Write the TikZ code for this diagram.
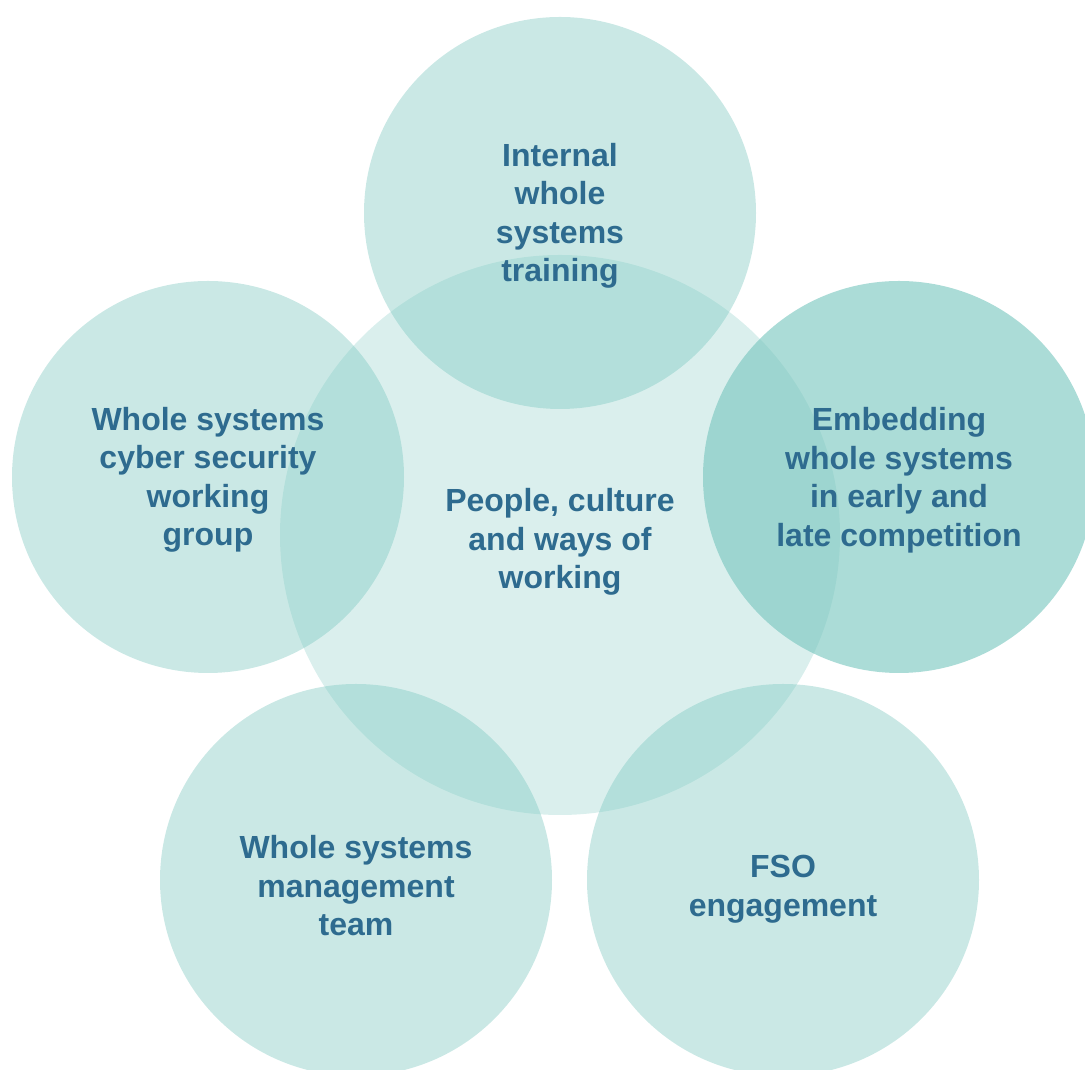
\documentclass[tikz,border=0pt]{standalone}
\usepackage{fontspec}
\setmainfont{Liberation Sans}
\definecolor{tealbase}{RGB}{118,197,189}
\definecolor{labelblue}{RGB}{46,107,143}
\tikzset{
  x=1pt,y=1pt,
  bubble/.style={circle, fill=tealbase, fill opacity=0.39, draw=none, minimum size=392pt, inner sep=0pt},
  hub/.style={circle, fill=tealbase, fill opacity=0.27, draw=none, minimum size=560pt, inner sep=0pt},
  label/.style={align=center, text=labelblue, font=\fontsize{32}{38.5}\selectfont\bfseries, inner sep=0pt}
}
\begin{document}
\begin{tikzpicture}
\useasboundingbox (0,0) rectangle (1085,1070);
\clip (0,0) rectangle (1085,1070);
% circles (y = 1070 - image y)
\node[hub] (hubc) at (560,535) {};
\node[bubble] (topc) at (560,857) {};
\node[bubble] (leftc) at (208,593) {};
\node[bubble, fill opacity=0.61] (rightc) at (899,593) {};
\node[bubble] (blc) at (356,190) {};
\node[bubble] (brc) at (783,190) {};
% labels
\node[label, yshift=-7pt] (hubt) at (hubc.center) {People, culture\\and ways of\\working};
\node[label, yshift=-3pt] (topt) at (topc.center) {Internal\\whole\\systems\\training};
\node[label, yshift=-3pt] (leftt) at (leftc.center) {Whole systems\\cyber security\\working\\group};
\node[label, yshift=-3pt] (rightt) at (rightc.center) {Embedding\\whole systems\\in early and\\late competition};
\node[label, yshift=-6pt] (blt) at (blc.center) {Whole systems\\management\\team};
\node[label, yshift=-9pt] (brt) at (brc.center) {FSO\\engagement};
\end{tikzpicture}
\end{document}
